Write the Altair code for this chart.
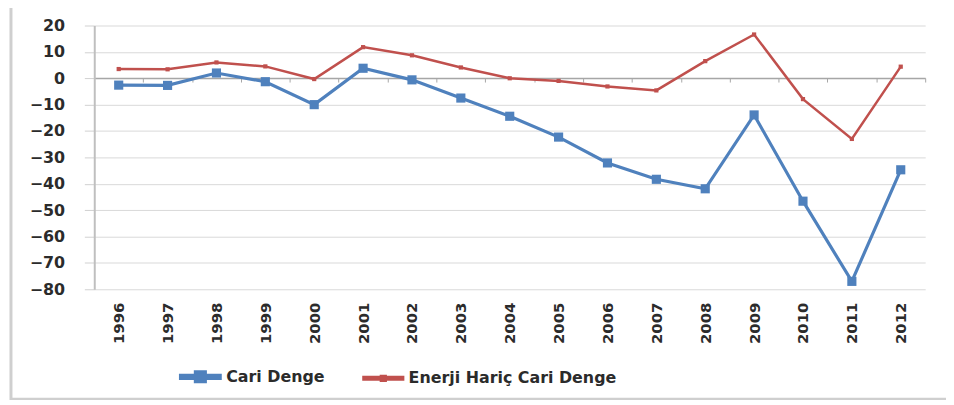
import altair as alt
import pandas as pd

years = ["1996", "1997", "1998", "1999", "2000", "2001", "2002", "2003", "2004",
         "2005", "2006", "2007", "2008", "2009", "2010", "2011", "2012"]
cari = [-2.6, -2.7, 2.0, -1.3, -10.0, 3.8, -0.6, -7.5, -14.4, -22.3, -32.1,
        -38.3, -41.9, -13.9, -46.6, -77.0, -34.7]
enerji = [3.5, 3.4, 6.0, 4.5, -0.3, 11.8, 8.7, 4.1, 0.0, -1.0, -3.1, -4.6,
          6.5, 16.6, -7.9, -23.0, 4.4]
series = ["Cari Denge", "Enerji Hariç Cari Denge"]
colors = ["#4F81BD", "#C0504D"]
marker_sizes = [85, 18]
y_ticks = [20, 10, 0, -10, -20, -30, -40, -50, -60, -70, -80]

rows = []
for name, vals in zip(series, [cari, enerji]):
    for yr, v in zip(years, vals):
        rows.append({"Yıl": yr, "Seri": name, "Değer": v})
df = pd.DataFrame(rows)

W, H = 838, 266
FONT = "DejaVu Sans"
TXT = "#2b2b2b"

# legend symbols: a short line with a marker (filled paths in a [-1,1] box)
legend_shapes = [
    "M-1,-0.08H1V0.08H-1Z M-0.25,-0.25H0.25V0.25H-0.25Z",
    "M-1,-0.065H1V0.065H-1Z M-0.12,-0.12H0.12V0.12H-0.12Z",
]

leg = alt.Legend(
    orient="none", legendX=85, legendY=332, direction="horizontal",
    title=None, labelFont=FONT, labelFontSize=16, labelFontWeight="bold",
    labelColor=TXT, symbolSize=1600, columnPadding=33, labelOffset=4,
    symbolOpacity=1, labelLimit=500,
)

x = alt.X(
    "Yıl:N", sort=years, scale=alt.Scale(padding=0.5),
    axis=alt.Axis(
        title=None, labelAngle=-90, labelAlign="right", labelBaseline="middle",
        offset=-213, labelPadding=222, tickOffset=24.65, labelOffset=-24.65,
        domainColor="#a6a6a6", domainWidth=1.5, tickColor="#a6a6a6", tickSize=4,
        grid=False, labelFont=FONT, labelFontSize=15, labelFontWeight="bold",
        labelColor=TXT,
    ),
)
y = alt.Y(
    "Değer:Q", scale=alt.Scale(domain=[-80, 20], nice=False, zero=False),
    axis=alt.Axis(
        title=None, values=y_ticks, tickSize=10, tickColor="#d0d0d0",
        domainColor="#bfbfbf", domainWidth=2, gridColor="#d9d9d9", labelPadding=20,
        labelFont=FONT, labelFontSize=16, labelFontWeight="bold", labelColor=TXT,
    ),
)
cscale = alt.Scale(domain=series, range=colors)

base = alt.Chart(df)

frame = alt.Chart(pd.DataFrame({"k": [0]})).mark_rect(
    fill=None, stroke="#cfcfcf", strokeWidth=3
).encode(
    x=alt.value(-84), x2=alt.value(W + 40), y=alt.value(-21), y2=alt.value(377)
)

legend_layer = alt.Chart(pd.DataFrame({"Seri": series})).mark_point(filled=True, opacity=1).encode(
    x=alt.value(-2000), y=alt.value(-2000),
    color=alt.Color("Seri:N", scale=cscale, legend=leg),
    shape=alt.Shape("Seri:N", scale=alt.Scale(domain=series, range=legend_shapes), legend=leg),
)
lines = base.mark_line().encode(
    x=x, y=y,
    color=alt.Color("Seri:N", scale=cscale),
    strokeWidth=alt.StrokeWidth("Seri:N", scale=alt.Scale(domain=series, range=[3.2, 2.5]), legend=None),
)
point_layers = [
    base.transform_filter(alt.datum["Seri"] == s).mark_point(
        filled=True, shape="square", opacity=1, color=c, size=sz
    ).encode(x=x, y=y)
    for s, c, sz in zip(series, colors, marker_sizes)
]

chart = alt.layer(legend_layer, lines, *point_layers, frame).properties(
    width=W, height=H,
    padding={"left": 87, "top": 16, "right": 21, "bottom": 110},
    autosize=alt.AutoSizeParams(type="none"),
    background="white",
).configure_view(stroke=None)

chart.save("out.html", embed_options={"renderer": "svg", "actions": False})
